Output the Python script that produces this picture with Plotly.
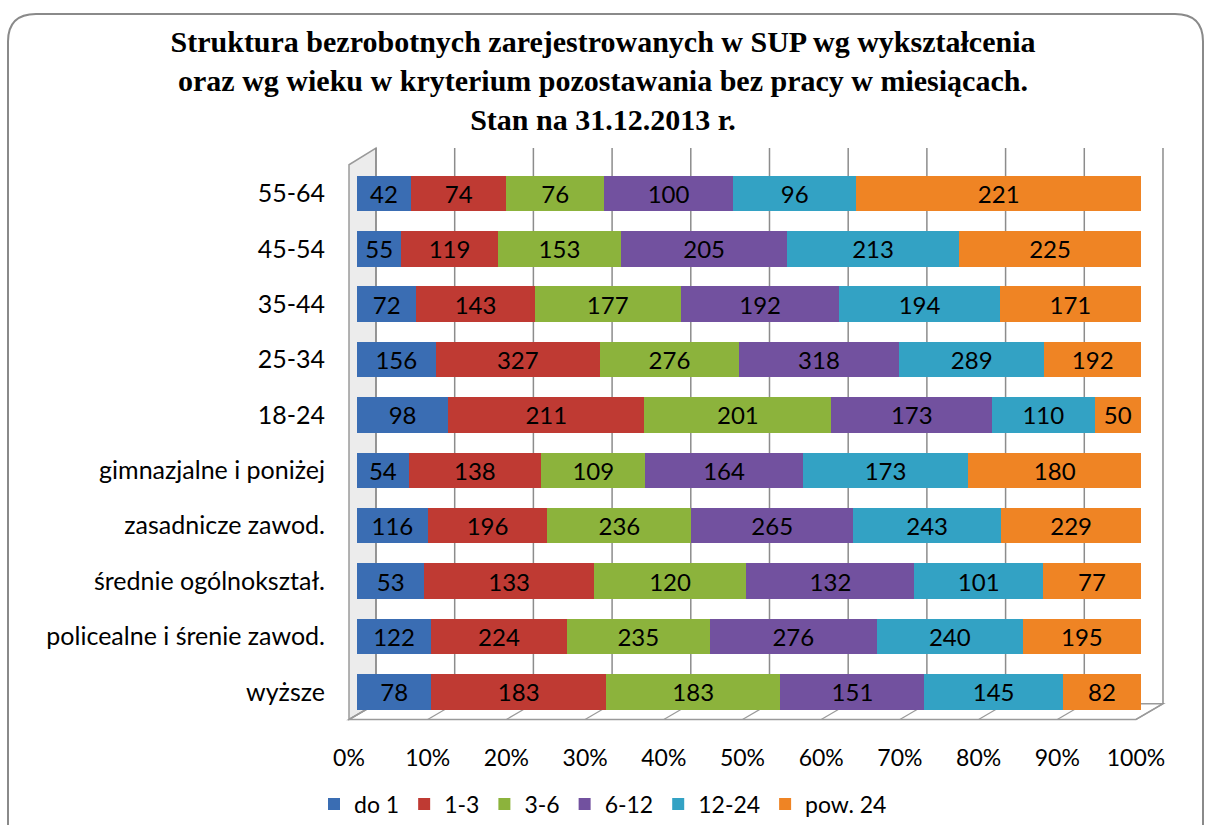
import plotly.graph_objects as go

# ---- data (categories listed bottom -> top) ----
categories = ["wyższe", "policealne i śrenie zawod.", "średnie ogólnokształ.",
              "zasadnicze zawod.", "gimnazjalne i poniżej",
              "18-24", "25-34", "35-44", "45-54", "55-64"]
series_names = ["do 1", "1-3", "3-6", "6-12", "12-24", "pow. 24"]
do_1 = [78, 122, 53, 116, 54, 98, 156, 72, 55, 42]
m1_3 = [183, 224, 133, 196, 138, 211, 327, 143, 119, 74]
m3_6 = [183, 235, 120, 236, 109, 201, 276, 177, 153, 76]
m6_12 = [151, 276, 132, 265, 164, 173, 318, 192, 205, 100]
m12_24 = [145, 240, 101, 243, 173, 110, 289, 194, 213, 96]
pow_24 = [82, 195, 77, 229, 180, 50, 192, 171, 225, 221]
tick_values = [0, 10, 20, 30, 40, 50, 60, 70, 80, 90, 100]

series_values = [do_1, m1_3, m3_6, m6_12, m12_24, pow_24]
colors = ["#3A6DB3", "#BF3A33", "#8CB33C", "#72519F", "#33A2C4", "#EF8424"]

FONT = "Lato"
W, H = 1206, 825
L, R, T, B = 340, 36, 148, 97
PW, PH = W - L - R, H - T - B

fig = go.Figure()
for name, vals, col in zip(series_names, series_values, colors):
    fig.add_trace(go.Bar(
        name=name, y=categories, x=vals, orientation="h",
        marker=dict(color=col, line=dict(width=0)),
        text=vals, texttemplate="%{text}", textposition="inside",
        insidetextanchor="middle",
        textfont=dict(family=FONT, size=24, color="black"),
        hoverinfo="skip",
    ))
# invisible trace to carry the tick axis
fig.add_trace(go.Scatter(x=[], y=[], xaxis="x2", yaxis="y", showlegend=False,
                         hoverinfo="skip"))

def yp(py):
    return (H - B - py) / PH

def px_(x):
    return (x - L) / PW

BACK = 3.43  # depth offset of back wall in tick-axis units
shapes = []
# rounded outer border
r = 28
x0b, y0b, x1b, y1b = 8, 12, 1203, 860
path = (f"M {px_(x0b)},{yp(y0b + r)} Q {px_(x0b)},{yp(y0b)} {px_(x0b + r)},{yp(y0b)} "
        f"L {px_(x1b - r)},{yp(y0b)} Q {px_(x1b)},{yp(y0b)} {px_(x1b)},{yp(y0b + r)} "
        f"L {px_(x1b)},{yp(y1b)} L {px_(x0b)},{yp(y1b)} Z")
shapes.append(dict(type="path", xref="paper", yref="paper", path=path,
                   line=dict(color="#8a8a8a", width=2), layer="below"))
fb = yp(712)
# left wall
shapes.append(dict(type="path", xref="x2", yref="paper",
                   path=f"M 0,0 L 0,{yp(165)} L {BACK},1 L {BACK},{fb} Z",
                   fillcolor="#ececec", line=dict(color="#9a9a9a", width=1.5),
                   layer="below"))
# floor
shapes.append(dict(type="path", xref="x2", yref="paper",
                   path=f"M 0,0 L 100,0 L {100 + BACK},{fb} L {BACK},{fb} Z",
                   fillcolor="rgba(0,0,0,0)", line=dict(color="#9a9a9a", width=1.5),
                   layer="below"))
for t in tick_values:
    shapes.append(dict(type="line", xref="x2", yref="paper",
                       x0=t + BACK, x1=t + BACK, y0=fb, y1=1,
                       line=dict(color="#8c8c8c", width=1.5), layer="below"))
    shapes.append(dict(type="line", xref="x2", yref="paper",
                       x0=t, x1=t + BACK, y0=0, y1=fb,
                       line=dict(color="#9a9a9a", width=1.2), layer="below"))

fig.update_layout(
    width=W, height=H,
    margin=dict(l=L, r=R, t=T, b=B),
    paper_bgcolor="white", plot_bgcolor="rgba(0,0,0,0)",
    barmode="stack", barnorm="percent", bargap=0.36,
    uniformtext=dict(minsize=24, mode="show"),
    title=dict(
        text="<b>Struktura bezrobotnych zarejestrowanych w SUP wg wykształcenia<br>"
             "oraz wg wieku w kryterium pozostawania bez pracy w miesiącach.<br>"
             "Stan na 31.12.2013 r.</b>",
        font=dict(family="Liberation Serif", size=30, color="black"),
        x=0.5, xref="container", xanchor="center",
        y=1 - 52 / H, yref="container", yanchor="top",
    ),
    xaxis=dict(range=[(L - 357) / 7.84, (W - R - 357) / 7.84],
               showticklabels=False, showgrid=False, zeroline=False,
               showline=False, fixedrange=True),
    xaxis2=dict(overlaying="x", anchor="y", side="bottom",
                range=[(L - 349) / 7.87, (W - R - 349) / 7.87],
                tickvals=tick_values, ticktext=[f"{v}%" for v in tick_values],
                showgrid=False, zeroline=False, showline=False, ticks="",
                ticklabelstandoff=22,
                tickfont=dict(family=FONT, size=23, color="black")),
    yaxis=dict(type="category", categoryorder="array", categoryarray=categories,
               range=[-0.5, 9.82], showgrid=False, zeroline=False, showline=False,
               ticks="", ticklabelstandoff=14,
               tickfont=dict(family=FONT, size=25, color="black")),
    legend=dict(orientation="h", xref="container", x=0.5, xanchor="center",
                yref="container", y=1 - 804 / H, yanchor="middle",
                font=dict(family=FONT, size=23, color="black"),
                itemwidth=30, traceorder="normal"),
    shapes=shapes,
    showlegend=True,
)

fig.write_html("out.html", config={"displayModeBar": False},
               post_script="document.body.style.margin='0';document.body.style.overflow='hidden';")
